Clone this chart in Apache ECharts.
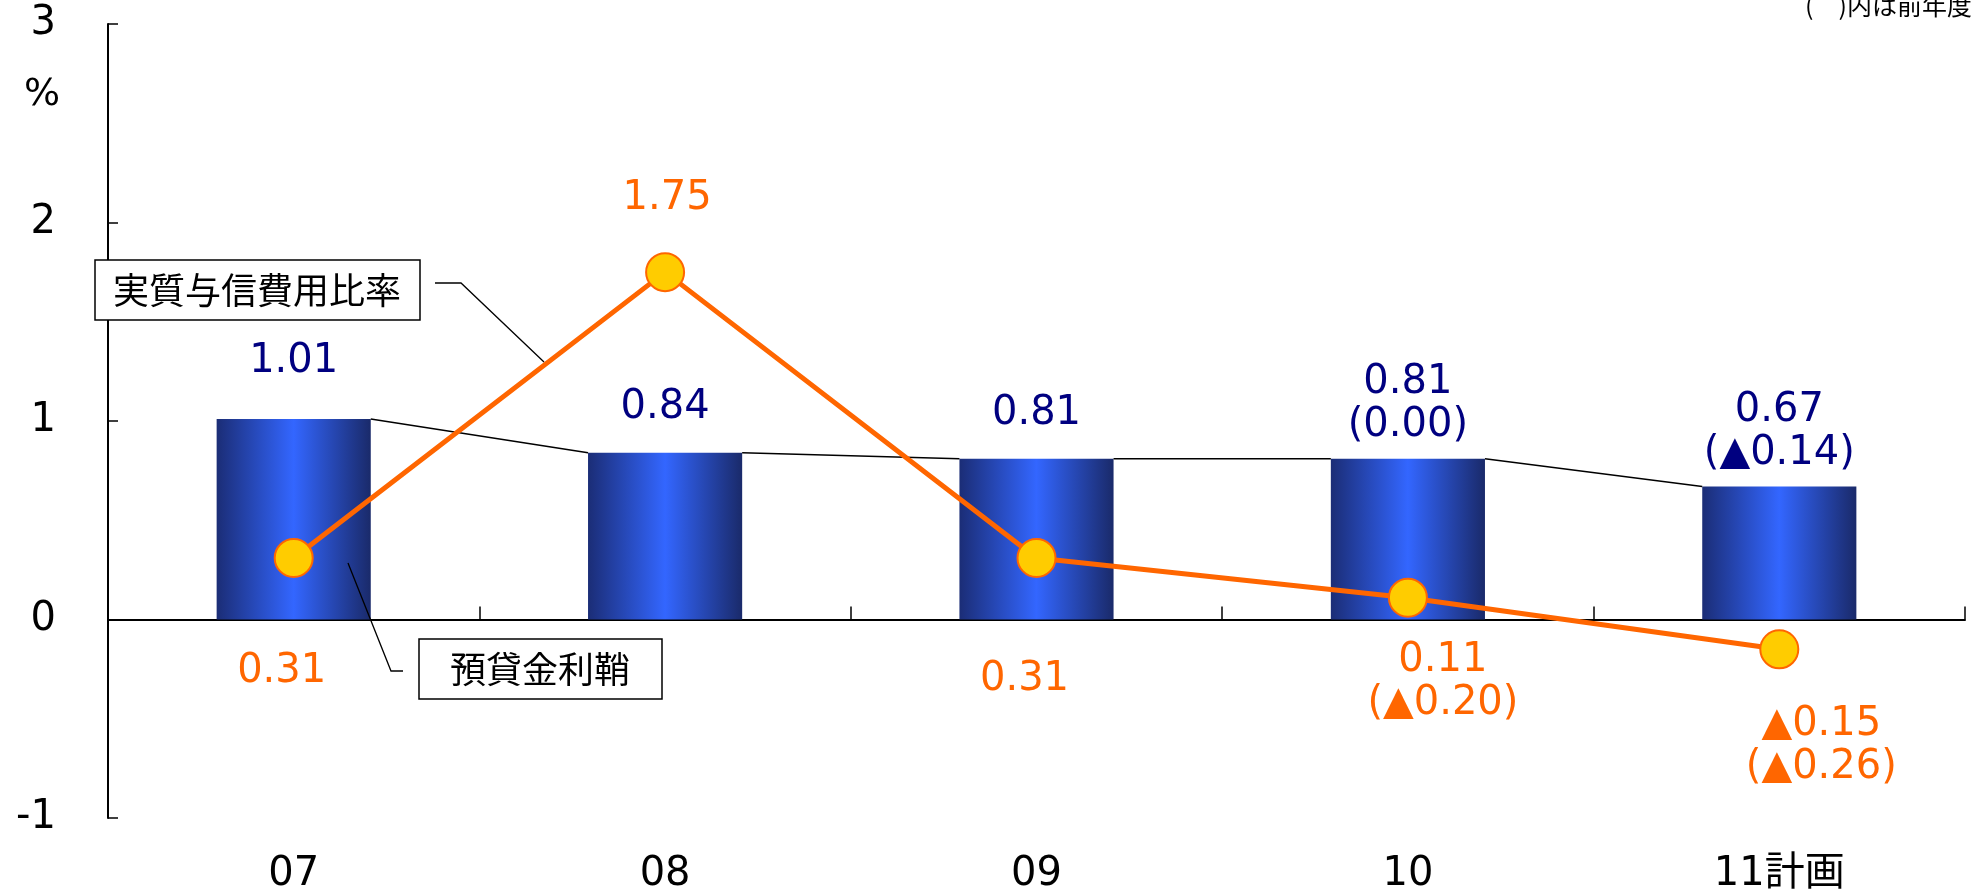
<!DOCTYPE html>
<html lang="ja">
<head>
<meta charset="utf-8">
<title>預貸金利鞘・実質与信費用比率</title>
<script src="https://cdn.jsdelivr.net/npm/echarts@6/dist/echarts.min.js"></script>
<style>
  html, body { margin: 0; padding: 0; background: #fff; }
  #chart { width: 1973px; height: 891px; }
</style>
</head>
<body>
<div id="chart"></div>
<script>
// Fiscal years
const categories = ['07', '08', '09', '10', '11計画'];
// 預貸金利鞘 (%)
const spreadValues = [1.01, 0.84, 0.81, 0.81, 0.67];
// 預貸金利鞘 前年度比 (null = not shown)
const spreadChanges = [null, null, null, 0.00, -0.14];
// 実質与信費用比率 (%)
const costValues = [0.31, 1.75, 0.31, 0.11, -0.15];
// 実質与信費用比率 前年度比
const costChanges = [null, null, null, -0.20, -0.26];
// Y axis ticks
const yTicks = [-1, 0, 1, 2, 3];

const FONT = '"DejaVu Sans", "Noto Sans CJK JP", sans-serif';
const JP_FONT = '"Noto Sans CJK JP", sans-serif';
const NAVY = '#000080';
const ORANGE = '#FF6600';
const BAR_FRAC = 0.415;
const FS = 40;
const LH = 43;

// ▲ marks negative numbers
function fmt(v) {
  return (v < 0 ? '▲' : '') + Math.abs(v).toFixed(2);
}
function labelText(v, ch) {
  return ch === null ? fmt(v) : fmt(v) + '\n(' + fmt(ch) + ')';
}

// per-item label placement
const spreadLabelDist = [36, 24, 24, 12, 11];
const costLabelOffset = [[-12, 114], [2, -74], [-12, 122], [35, 84], [42, 97]];

const barData = spreadValues.map((v, i) => ({
  value: v,
  label: { distance: spreadLabelDist[i], formatter: labelText(v, spreadChanges[i]) }
}));
const lineData = costValues.map((v, i) => ({
  value: v,
  label: { offset: costLabelOffset[i], formatter: labelText(v, costChanges[i]) }
}));
// series lines joining neighbouring bar tops
const connectorData = spreadValues.slice(0, -1).map((v, i) => [i, v, spreadValues[i + 1]]);

const chart = echarts.init(document.getElementById('chart'), null, { renderer: 'canvas' });

const option = {
  animation: false,
  backgroundColor: '#fff',
  grid: { left: 108, right: 8, top: 24, bottom: 73, containLabel: false, outerBoundsMode: 'none' },
  xAxis: [
    {
      type: 'category',
      data: categories,
      position: 'bottom',
      axisLine: { show: false, onZero: false },
      axisTick: { show: false },
      axisLabel: { color: '#000', fontSize: FS, fontFamily: FONT, margin: 35, lineHeight: LH }
    },
    {
      type: 'category',
      data: categories,
      position: 'bottom',
      axisLine: { show: true, onZero: true, lineStyle: { color: '#000', width: 2 } },
      axisTick: { show: true, inside: true, length: 13, lineStyle: { color: '#000', width: 1.5 } },
      axisLabel: { show: false }
    }
  ],
  yAxis: {
    type: 'value',
    min: yTicks[0],
    max: yTicks[yTicks.length - 1],
    interval: 1,
    axisLine: { show: true, lineStyle: { color: '#000', width: 2 } },
    axisTick: { show: true, inside: true, length: 10, lineStyle: { color: '#000', width: 1.5 } },
    splitLine: { show: false },
    axisLabel: {
      color: '#000', fontSize: FS, fontFamily: FONT, margin: 52,
      padding: [8, 0, 0, 0],
      formatter: v => String(v)
    }
  },
  series: [
    {
      name: '預貸金利鞘',
      type: 'bar',
      xAxisIndex: 0,
      barWidth: (BAR_FRAC * 100) + '%',
      data: barData,
      z: 2,
      itemStyle: {
        color: new echarts.graphic.LinearGradient(0, 0, 1, 0, [
          { offset: 0, color: '#1b2d76' },
          { offset: 0.5, color: '#3366ff' },
          { offset: 1, color: '#1a2a6a' }
        ])
      },
      label: {
        show: true, position: 'top', color: NAVY,
        fontSize: FS, lineHeight: LH, fontFamily: FONT, align: 'center'
      }
    },
    {
      name: 'series-lines',
      type: 'custom',
      xAxisIndex: 0,
      data: connectorData,
      encode: { x: 0, y: [1, 2] },
      z: 3,
      silent: true,
      renderItem: function (params, api) {
        const p1 = api.coord([api.value(0), api.value(1)]);
        const p2 = api.coord([api.value(0) + 1, api.value(2)]);
        const half = api.size([1, 0])[0] * BAR_FRAC / 2;
        return {
          type: 'line',
          shape: { x1: p1[0] + half, y1: p1[1], x2: p2[0] - half, y2: p2[1] },
          style: { stroke: '#000', lineWidth: 1.6 }
        };
      }
    },
    {
      name: '実質与信費用比率',
      type: 'line',
      xAxisIndex: 0,
      data: lineData,
      z: 5,
      symbol: 'circle',
      symbolSize: 38,
      lineStyle: { color: ORANGE, width: 5 },
      itemStyle: { color: '#FFCC00', borderColor: ORANGE, borderWidth: 2 },
      label: {
        show: true, position: 'inside', color: ORANGE,
        fontSize: FS, lineHeight: LH, fontFamily: FONT, align: 'center'
      }
    }
  ],
  graphic: [
    {
      type: 'text', z: 10, x: 42, y: 95,
      style: {
        text: '%', fontSize: 38, fontFamily: FONT, fill: '#000',
        align: 'center', verticalAlign: 'middle'
      }
    },
    {
      type: 'text', left: 1805, top: -7, z: 10,
      style: { text: '(　)内は前年度比', fontSize: 25, fontFamily: JP_FONT, fill: '#000' }
    },
    // callout: 実質与信費用比率
    {
      type: 'polyline', z: 20, silent: true,
      shape: { points: [[435, 283], [461, 283], [544, 362]] },
      style: { stroke: '#000', lineWidth: 1.3, fill: null }
    },
    {
      type: 'rect', z: 20,
      shape: { x: 95, y: 260, width: 325, height: 60 },
      style: { fill: '#fff', stroke: '#000', lineWidth: 1.5 }
    },
    {
      type: 'text', z: 21, x: 257, y: 290,
      style: {
        text: '実質与信費用比率', fontSize: 36, fontFamily: JP_FONT, fill: '#000',
        align: 'center', verticalAlign: 'middle'
      }
    },
    // callout: 預貸金利鞘
    {
      type: 'polyline', z: 20, silent: true,
      shape: { points: [[348, 563], [391, 671], [403, 671]] },
      style: { stroke: '#000', lineWidth: 1.3, fill: null }
    },
    {
      type: 'rect', z: 20,
      shape: { x: 419, y: 639, width: 243, height: 60 },
      style: { fill: '#fff', stroke: '#000', lineWidth: 1.5 }
    },
    {
      type: 'text', z: 21, x: 540, y: 669,
      style: {
        text: '預貸金利鞘', fontSize: 36, fontFamily: JP_FONT, fill: '#000',
        align: 'center', verticalAlign: 'middle'
      }
    }
  ]
};

chart.setOption(option);
</script>
</body>
</html>
